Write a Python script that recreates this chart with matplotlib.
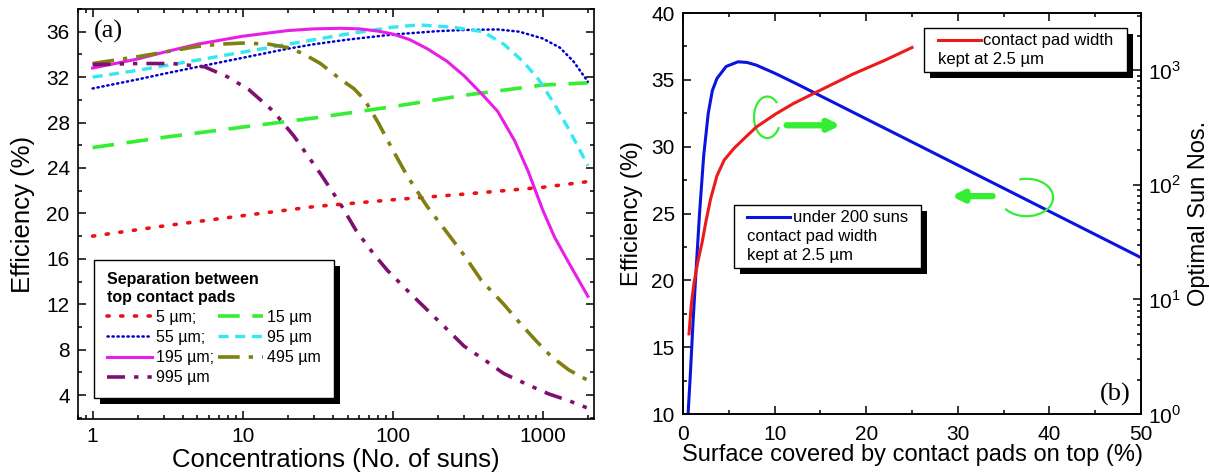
import matplotlib
matplotlib.use("Agg")
import matplotlib.pyplot as plt
from matplotlib.lines import Line2D
from matplotlib.patches import Rectangle, Arc
from matplotlib.offsetbox import AnchoredOffsetbox, VPacker, HPacker, TextArea, DrawingArea
from matplotlib.ticker import MultipleLocator, FixedLocator, FixedFormatter, LogLocator, NullFormatter

plt.rcParams['font.family'] = ['Liberation Sans', 'DejaVu Sans']
plt.rcParams['mathtext.fontset'] = 'custom'
plt.rcParams['mathtext.rm'] = 'Liberation Sans'

# ---- panel (a): efficiency vs concentration, one series per pad separation
x_5 = [1, 3, 10, 30, 100, 300, 1000, 2000]
y_5 = [18.0, 18.9, 19.8, 20.6, 21.2, 21.7, 22.3, 22.8]

x_15 = [1, 3, 10, 30, 100, 300, 1000, 2000]
y_15 = [25.8, 26.7, 27.6, 28.4, 29.4, 30.4, 31.3, 31.5]

x_55 = [1, 2, 3, 5, 10, 20, 30, 50, 100, 200, 300, 500, 700, 1000, 1300, 1600, 2000]
y_55 = [31.0, 31.8, 32.3, 32.9, 33.7, 34.5, 34.9, 35.3, 35.75, 36.05, 36.15, 36.2, 36.0, 35.4, 34.6, 33.4, 31.6]

x_95 = [1, 2, 3, 5, 10, 20, 30, 50, 100, 150, 250, 400, 550, 750, 950, 1200, 1450, 1700, 2000]
y_95 = [32.0, 32.6, 33.0, 33.5, 34.2, 34.9, 35.3, 35.8, 36.4, 36.6, 36.4, 36.0, 34.9, 33.3, 31.7, 29.6, 27.7, 26.0, 24.2]

x_195 = [1, 2, 3, 5, 10, 20, 30, 45, 60, 80, 100, 130, 170, 230, 300, 400, 500, 650, 800, 1000, 1200, 1500, 2000]
y_195 = [32.8, 33.6, 34.2, 34.9, 35.6, 36.1, 36.25, 36.3, 36.25, 36.05, 35.8, 35.3, 34.5, 33.4, 32.1, 30.4, 29.0, 26.4, 23.7, 20.3, 17.9, 15.6, 12.7]

x_495 = [1, 2, 3, 5, 7, 10, 15, 20, 25, 33, 45, 55, 65, 80, 100, 125, 170, 240, 300, 390, 550, 710, 900, 1140, 1500, 2000]
y_495 = [33.2, 33.8, 34.2, 34.7, 34.9, 35.0, 34.9, 34.6, 34.1, 33.2, 31.8, 31.0, 30.0, 28.0, 25.6, 23.3, 20.6, 18.0, 16.3, 14.1, 12.0, 10.3, 8.8, 7.4, 6.2, 5.3]

x_995 = [1, 2, 3.4, 5.6, 8, 11, 16, 22, 33, 45, 57, 75, 92, 130, 170, 230, 300, 420, 550, 800, 1100, 1500, 2000]
y_995 = [33.1, 33.2, 33.2, 32.9, 32.0, 30.9, 29.0, 26.8, 23.5, 20.8, 18.5, 16.4, 15.0, 13.0, 11.5, 9.8, 8.3, 7.0, 5.9, 4.9, 4.1, 3.5, 2.85]

a_xticks = [1, 10, 100, 1000]
a_xticklabels = ['1', '10', '100', '1000']

# ---- panel (b): efficiency (left) and optimal sun number (right) vs coverage
cov_eff = [0.55, 0.8, 1.1, 1.4, 1.8, 2.25, 2.75, 3.2, 3.7, 4.7, 6.0, 7.0, 8.0, 10.0, 12.4, 25.0, 50.0]
eff_b = [10.0, 13.0, 17.0, 20.5, 25.0, 29.3, 32.5, 34.2, 35.1, 36.0, 36.35, 36.3, 36.1, 35.5, 34.7, 30.35, 21.7]

cov_sun = [0.65, 0.9, 1.2, 1.6, 2.1, 2.5, 3.0, 3.7, 4.5, 5.6, 6.7, 8.0, 10.1, 12.0, 14.3, 18.6, 22.0, 25.0]
suns_b = [5, 9, 14, 21, 32, 48, 75, 120, 165, 210, 255, 320, 415, 510, 630, 930, 1220, 1580]

FS_TICK = 15
LW = 2.2
arrow_green = '#33ee33'

fig = plt.figure(figsize=(12.1, 4.73), dpi=100)
axa = fig.add_axes([0.0645, 0.1142, 0.4265, 0.8668])
axb = fig.add_axes([0.5645, 0.1247, 0.3785, 0.8478])


def style_axis(ax):
    for s in ax.spines.values():
        s.set_linewidth(1.2)
    ax.tick_params(which='both', direction='in', labelsize=FS_TICK, width=1.1, pad=6)
    ax.tick_params(which='major', length=6)
    ax.tick_params(which='minor', length=3)


def add_shadow(ax, box, dx=6, dy=6):
    fig.canvas.draw()
    bb = box.get_window_extent()
    inv = ax.transAxes.inverted()
    (x0, y0), (x1, y1) = inv.transform([[bb.x0 + dx, bb.y0 - dy], [bb.x1 + dx, bb.y1 - dy]])
    ax.add_patch(Rectangle((x0, y0), x1 - x0, y1 - y0, transform=ax.transAxes,
                           facecolor='black', edgecolor='none',
                           zorder=box.get_zorder() - 0.1, clip_on=False))


# ---------------- panel (a)
l5, = axa.plot(x_5, y_5, color='#ee1111', lw=2.6, linestyle=(0, (0.6, 3.2)), dash_capstyle='round')
l15, = axa.plot(x_15, y_15, color='#33ee33', lw=2.6, linestyle=(0, (6, 3.5)))
l55, = axa.plot(x_55, y_55, color='#0000cc', lw=1.8, linestyle=(0, (0.5, 1.5)), dash_capstyle='round')
l95, = axa.plot(x_95, y_95, color='#33e8f0', lw=2.4, linestyle=(0, (3, 2)))
l195, = axa.plot(x_195, y_195, color='#e81ee8', lw=LW)
l495, = axa.plot(x_495, y_495, color='#808010', lw=2.6, linestyle=(0, (6, 2.5, 1.2, 2.5)))
l995, = axa.plot(x_995, y_995, color='#801070', lw=2.6, linestyle=(0, (5, 2.5, 1.2, 2.5, 1.2, 2.5)))

axa.set_xscale('log')
axa.set_xlim(0.8, 2200)
axa.set_ylim(1.9, 38)
axa.xaxis.set_major_locator(FixedLocator(a_xticks))
axa.xaxis.set_major_formatter(FixedFormatter(a_xticklabels))
axa.xaxis.set_minor_locator(LogLocator(base=10, subs=range(2, 10)))
axa.xaxis.set_minor_formatter(NullFormatter())
axa.yaxis.set_major_locator(MultipleLocator(4))
axa.yaxis.set_minor_locator(MultipleLocator(2))
axa.tick_params(which='both', top=True, right=True)
style_axis(axa)
axa.set_xlabel('Concentrations (No. of suns)', fontsize=18.5, labelpad=1)
axa.set_ylabel('Efficiency (%)', fontsize=18.5, labelpad=8)
axa.text(0.03, 0.944, '(a)', transform=axa.transAxes, fontsize=19,
         family='Liberation Serif', va='center', ha='left')

handles = [l5, l55, l195, l995, l15, l95, l495]
labels = ['5 µm;', '55 µm;', '195 µm;', '995 µm', '15 µm', '95 µm', '495 µm']
leg = axa.legend(handles, labels, ncol=2, loc='lower left', bbox_to_anchor=(0.031, 0.051),
                 borderaxespad=0, fontsize=11.5, title='Separation between\ntop contact pads',
                 title_fontproperties={'weight': 'bold', 'size': 11.5}, alignment='left',
                 fancybox=False, framealpha=1, edgecolor='black', handlelength=2.8,
                 handletextpad=0.25, columnspacing=0.3, labelspacing=0.32, borderpad=0.8)
leg.get_frame().set_linewidth(1.0)
leg.set_zorder(5)
add_shadow(axa, leg)

# ---------------- panel (b)
axb.plot(cov_eff, eff_b, color='#0a14e0', lw=LW)
axb.set_xlim(0, 50)
axb.set_ylim(10, 40)
axb.xaxis.set_major_locator(MultipleLocator(10))
axb.xaxis.set_minor_locator(MultipleLocator(5))
axb.yaxis.set_major_locator(MultipleLocator(5))
axb.yaxis.set_minor_locator(MultipleLocator(2.5))
axb.tick_params(which='both', top=True)
style_axis(axb)
axb.tick_params(axis='x', pad=8)
axb.set_xlabel('Surface covered by contact pads on top (%)', fontsize=17, labelpad=0)
axb.set_ylabel('Efficiency (%)', fontsize=17, labelpad=6)

axr = axb.twinx()
axr.plot(cov_sun, suns_b, color='#ee1a1a', lw=LW)
axr.set_yscale('log')
axr.set_ylim(1, 10 ** 3.5)
axr.yaxis.set_major_locator(FixedLocator([1, 10, 100, 1000]))
axr.yaxis.set_major_formatter(FixedFormatter(['$10^0$', '$10^1$', '$10^2$', '$10^3$']))
axr.yaxis.set_minor_locator(LogLocator(base=10, subs=range(2, 10)))
axr.yaxis.set_minor_formatter(NullFormatter())
style_axis(axr)
axr.tick_params(axis='y', pad=5)
axr.set_ylabel('Optimal Sun Nos.', fontsize=17, labelpad=5)

# green loop + arrow markers pointing to each curve's axis
axb.add_patch(Arc((9.2, 32.2), 2.9, 3.1, theta1=45, theta2=330, color=arrow_green, lw=1.6, zorder=4))
axb.annotate('', xy=(17.5, 31.6), xytext=(11.0, 31.6),
             arrowprops=dict(arrowstyle='-|>', color=arrow_green, lw=4.5, mutation_scale=16))
axb.add_patch(Arc((37.5, 26.2), 5.8, 2.8, theta1=-160, theta2=120, color=arrow_green, lw=1.6, zorder=4))
axb.annotate('', xy=(29.0, 26.3), xytext=(34.1, 26.3),
             arrowprops=dict(arrowstyle='-|>', color=arrow_green, lw=4.5, mutation_scale=16))

axb.text(0.978, 0.02, '(b)', transform=axb.transAxes, fontsize=19,
         family='Liberation Serif', va='bottom', ha='right')


def line_box(ax, color, first, rest, loc, anchor, side_pad):
    tp = dict(fontsize=12)
    da = DrawingArea(31, 10)
    da.add_artist(Line2D([0, 31], [5, 5], color=color, lw=LW))
    row = HPacker(children=[da, TextArea(first, textprops=tp)], pad=0, sep=2, align='center')
    rows = [row] + [TextArea(t, textprops=tp) for t in rest]
    vbox = VPacker(children=rows, pad=0, sep=3, align='left')
    box = HPacker(children=[DrawingArea(side_pad, 1), vbox, DrawingArea(side_pad, 1)],
                  pad=0, sep=0, align='center')
    ab = AnchoredOffsetbox(loc=loc, child=box, pad=0.35, borderpad=0, frameon=True,
                           bbox_to_anchor=anchor, bbox_transform=ax.transAxes)
    ab.patch.set_boxstyle('square', pad=0)
    ab.patch.set_edgecolor('black')
    ab.patch.set_linewidth(1.0)
    ab.set_zorder(5)
    ax.add_artist(ab)
    return ab


top_box = line_box(axr, '#ee1a1a', 'contact pad width', ['kept at 2.5 µm'],
                   'upper right', (0.969, 0.963), 6)
low_box = line_box(axr, '#0a14e0', 'under 200 suns', ['contact pad width', 'kept at 2.5 µm'],
                   'upper left', (0.111, 0.521), 6)
add_shadow(axr, top_box)
add_shadow(axr, low_box)

fig.savefig('out.png', dpi=100)
